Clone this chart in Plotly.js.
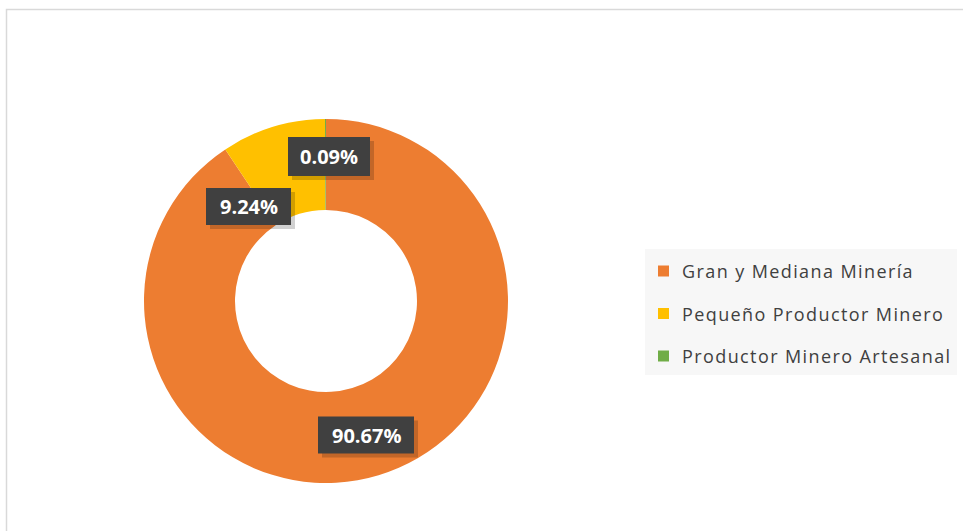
<!DOCTYPE html>
<html><head><meta charset="utf-8">
<script src="https://cdn.plot.ly/plotly-3.0.1.min.js"></script>
<style>html,body{margin:0;padding:0;background:#fff}#chart{width:963px;height:531px}</style>
</head><body><div id="chart"></div>
<script>
const categories = ['Gran y Mediana Minería', 'Pequeño Productor Minero', 'Productor Minero Artesanal'];
const shares = [90.67, 9.24, 0.09];
const labelText = ['90.67%', '9.24%', '0.09%'];
const colors = ['#ED7D31', '#FFC000', '#70AD47'];

const W = 963, H = 531;
const px = x => x / W, py = y => 1 - y / H;

// label boxes (pixel): center x, center y, width, height
const labelBox = [[366, 435, 96, 37], [248.5, 206.5, 85, 37], [329, 156.5, 82, 39]];

const annotations = [];
const shapes = [{type:'rect', xref:'paper', yref:'paper', x0:px(6.5), x1:px(980), y0:py(545), y1:py(9.5),
  line:{color:'#d9d9d9', width:1.5}, fillcolor:'rgba(0,0,0,0)'}];

labelText.forEach((t, i) => {
  const [cx, cy, bw, bh] = labelBox[i];
  shapes.push({type:'rect', xref:'paper', yref:'paper', x0:px(cx - bw/2 + 4), x1:px(cx + bw/2 + 4),
    y0:py(cy + bh/2 + 4), y1:py(cy - bh/2 + 4), fillcolor:'rgba(0,0,0,0.18)', line:{width:0}});
  shapes.push({type:'rect', xref:'paper', yref:'paper', x0:px(cx - bw/2), x1:px(cx + bw/2),
    y0:py(cy + bh/2), y1:py(cy - bh/2), fillcolor:'#404040', line:{width:0}});
  annotations.push({xref:'paper', yref:'paper', x:px(cx), y:py(cy), text:'<b>' + t + '</b>', showarrow:false,
    font:{family:'Open Sans, sans-serif', size:20, color:'#ffffff'}, xanchor:'center', yanchor:'middle'});
});

// manual legend
shapes.push({type:'rect', xref:'paper', yref:'paper', x0:px(645), x1:px(957), y0:py(375), y1:py(249),
  fillcolor:'#f7f7f7', line:{width:0}, layer:'below'});
categories.forEach((c, i) => {
  const yc = 271 + i * 42.5;
  shapes.push({type:'rect', xref:'paper', yref:'paper', x0:px(658), x1:px(669), y0:py(yc + 5.5), y1:py(yc - 5.5),
    fillcolor:colors[i], line:{width:0}});
  annotations.push({xref:'paper', yref:'paper', x:px(680), y:py(yc), text:c, showarrow:false,
    xanchor:'left', yanchor:'middle', font:{family:'Open Sans, sans-serif', size:18, color:'#404040'}});
});

const trace = {
  type:'pie', labels:categories, values:shares, hole:0.5, sort:false, direction:'clockwise', rotation:0,
  marker:{colors:colors, line:{width:0}}, textinfo:'none', hoverinfo:'label+percent',
  domain:{x:[px(144), px(508)], y:[py(483), py(119)]}, showlegend:false
};

Plotly.newPlot('chart', [trace], {
  width:W, height:H, margin:{l:0, r:0, t:0, b:0}, paper_bgcolor:'#ffffff',
  showlegend:false, annotations:annotations, shapes:shapes
}, {displayModeBar:false, staticPlot:true}).then(() => {
  document.querySelectorAll('.annotation-text').forEach(el => {
    if (categories.includes(el.textContent)) {
      const bb = el.getBBox();
      el.setAttribute('text-anchor', 'start');
      el.setAttribute('x', bb.x);
      el.querySelectorAll('tspan[x]').forEach(ts => ts.setAttribute('x', bb.x));
      el.style.letterSpacing = '1.4px';
    }
  });
});
</script></body></html>
